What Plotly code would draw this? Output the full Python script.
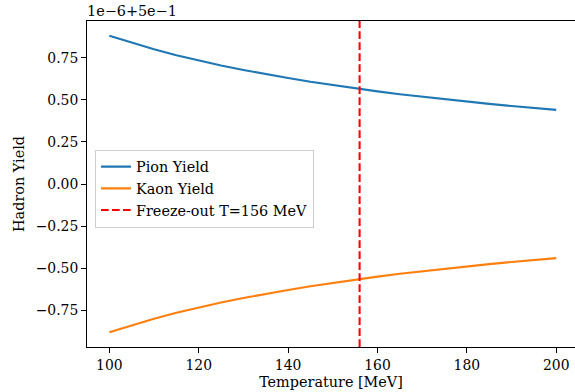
import plotly.graph_objects as go

# Data (yield deviation from 0.5, in units of 1e-6)
temperature = [100, 105, 110, 115, 120, 125, 130, 135, 140, 145, 150,
               155, 160, 165, 170, 175, 180, 185, 190, 195, 200]
pion_dev = [0.880, 0.838, 0.800, 0.765, 0.733, 0.704, 0.677, 0.652, 0.629, 0.607, 0.587,
            0.568, 0.550, 0.533, 0.518, 0.503, 0.489, 0.476, 0.463, 0.451, 0.440]
kaon_dev = [-0.880, -0.838, -0.800, -0.765, -0.733, -0.704, -0.677, -0.652, -0.629, -0.607, -0.587,
            -0.568, -0.550, -0.533, -0.518, -0.503, -0.489, -0.476, -0.463, -0.451, -0.440]
freeze_T = 156
x_ticks = [100, 120, 140, 160, 180, 200]
y_ticks = [-0.75, -0.5, -0.25, 0.0, 0.25, 0.5, 0.75]

FONT = "DejaVu Serif"
FS = 13.9
FS2 = 14.4
DASH = "7.7px,3.3px"

fig = go.Figure()
fig.add_trace(go.Scatter(x=temperature, y=pion_dev, mode="lines", name="Pion Yield",
                         line=dict(color="#1f77b4", width=2.08)))
fig.add_trace(go.Scatter(x=temperature, y=kaon_dev, mode="lines", name="Kaon Yield",
                         line=dict(color="#ff7f0e", width=2.08)))
fig.add_trace(go.Scatter(x=[None], y=[None], mode="lines", name=f"Freeze-out T={freeze_T} MeV",
                         line=dict(color="red", width=2.08, dash=DASH)))
fig.add_vline(x=freeze_T, line=dict(color="red", width=2.08, dash=DASH))

fig.update_layout(
    width=575, height=392,
    margin=dict(l=87, r=0, t=21, b=45, autoexpand=False),
    paper_bgcolor="white", plot_bgcolor="white",
    font=dict(family=FONT, size=FS, color="black"),
    showlegend=True,
    legend=dict(x=0.0164, y=0.605, xanchor="left", yanchor="top",
                bgcolor="rgba(255,255,255,0.8)", bordercolor="#cccccc", borderwidth=1,
                font=dict(family=FONT, size=FS2), tracegroupgap=0),
    xaxis=dict(range=[95, 204.2], tickvals=x_ticks, showgrid=False, zeroline=False,
               showline=True, linecolor="black", linewidth=1.1, mirror=True,
               ticks="outside", ticklen=4.9, tickwidth=1.1, tickcolor="black",
               title=dict(text="Temperature [MeV]", standoff=5, font=dict(family=FONT, size=FS2))),
    yaxis=dict(range=[-0.968, 0.968], tickvals=y_ticks, tickformat=".2f", showgrid=False,
               zeroline=False, showline=True, linecolor="black", linewidth=1.1,
               ticks="outside", ticklen=4.9, tickwidth=1.1, tickcolor="black",
               title=dict(text="Hadron Yield", standoff=7, font=dict(family=FONT, size=FS2))),
    annotations=[dict(text="1e\u22126+5e\u22121", xref="paper", yref="paper", x=0, y=1,
                      xanchor="left", yanchor="bottom", showarrow=False, yshift=0, xshift=-2,
                      font=dict(family=FONT, size=FS2))],
)

fig.write_html("out.html", config={"displayModeBar": False},
               post_script="document.body.style.margin='0';")
